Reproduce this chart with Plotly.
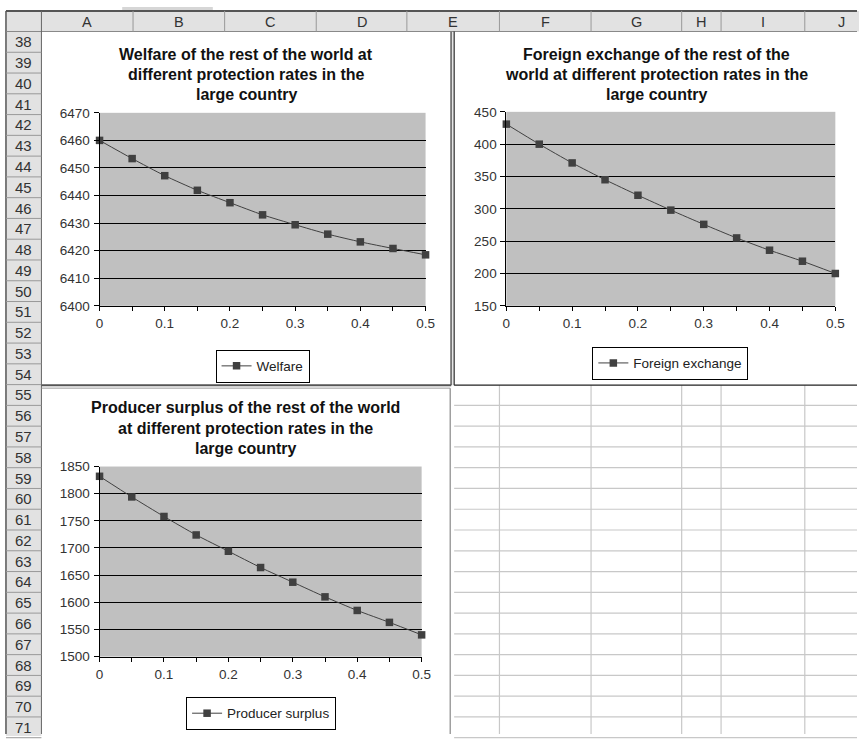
import plotly.graph_objects as go

# ---------------------------------------------------------------------------
# Data
# ---------------------------------------------------------------------------
RATES = [0, 0.05, 0.1, 0.15, 0.2, 0.25, 0.3, 0.35, 0.4, 0.45, 0.5]
WELFARE = [6460.0, 6453.4, 6447.2, 6441.9, 6437.4, 6433.0, 6429.4, 6426.0, 6423.2, 6420.8, 6418.5]
FOREIGN_EXCHANGE = [431, 400, 371, 345, 321, 298, 276, 255, 236, 219, 200]
PRODUCER_SURPLUS = [1832, 1794, 1758, 1724, 1694, 1664, 1637, 1610, 1585, 1563, 1540]

SERIES_NAMES = ["Welfare", "Foreign exchange", "Producer surplus"]
TITLES = [
    ["Welfare of the rest of the world at", "different protection rates in the", "large country"],
    ["Foreign exchange of the rest of the", "world at different protection rates in the", "large country"],
    ["Producer surplus of the rest of the world", "at different protection rates in the", "large country"],
]
Y_RANGES = [(6400, 6470), (150, 450), (1500, 1850)]
Y_STEPS = [10, 50, 50]

COLUMN_LABELS = ["A", "B", "C", "D", "E", "F", "G", "H", "I", "J"]
ROW_LABELS = [str(r) for r in range(38, 72)]

# ---------------------------------------------------------------------------
# Page geometry (pixels) and styles
# ---------------------------------------------------------------------------
W, H = 866, 742
FONT = "Liberation Sans, Arial, sans-serif"
LINE_COL = "#404040"
PLOT_BG = "#c0c0c0"
HEAD_BG = "#e2e2e2"
CELL_LINE = "#c8c8c8"

COL_EDGES = [38, 131, 224, 317, 409, 503, 596, 688, 728, 813, 887]
HEAD_TOP, HEAD_BOT = 4, 25
ROW_H = 21.2
ROW_HEAD_L, ROW_HEAD_R = 2, 38

# plot areas: (left, right, top, bottom)
PLOT_BOXES = [(97, 428, 108, 305), (510, 844, 107, 305), (97, 424, 469, 663)]
TITLE_POS = [(246, [48, 68.5, 89]), (662, [48, 68.5, 89]), (245, [409, 430, 451])]
LEGEND_POS = [(262.5, 366.5), (676.5, 363.5), (261, 721)]


def px(x):
    return x / W


def py(y):
    return 1 - y / H


def line(x0, y0, x1, y1, color, width=1):
    return dict(type="line", xref="paper", yref="paper",
                x0=px(x0), y0=py(y0), x1=px(x1), y1=py(y1),
                line=dict(color=color, width=width))


def rect(x0, y0, x1, y1, fill, color=None, width=0):
    d = dict(type="rect", xref="paper", yref="paper", layer="below",
             x0=px(x0), y0=py(y0), x1=px(x1), y1=py(y1),
             fillcolor=fill, line=dict(width=width))
    if color:
        d["line"]["color"] = color
    return d


fig = go.Figure()

series = [WELFARE, FOREIGN_EXCHANGE, PRODUCER_SURPLUS]
for i, (name, values) in enumerate(zip(SERIES_NAMES, series)):
    suffix = "" if i == 0 else str(i + 1)
    fig.add_trace(go.Scatter(
        x=RATES, y=values, name=name, mode="lines+markers",
        line=dict(color=LINE_COL, width=1, shape="spline", smoothing=0.6),
        marker=dict(symbol="square", size=7.5, color=LINE_COL),
        xaxis="x" + suffix, yaxis="y" + suffix,
        legend="legend" + suffix, cliponaxis=False, showlegend=True,
    ))

layout = dict(
    width=W, height=H, margin=dict(l=0, r=0, t=0, b=0),
    paper_bgcolor="white", plot_bgcolor=PLOT_BG,
    font=dict(family=FONT, color="#222"),
)

for i, ((l, r, t, b), (lo, hi), step) in enumerate(zip(PLOT_BOXES, Y_RANGES, Y_STEPS)):
    suffix = "" if i == 0 else str(i + 1)
    layout["xaxis" + suffix] = dict(
        domain=[px(l), px(r)], anchor="y" + suffix, range=[0, 0.5],
        tick0=0, dtick=0.1, ticks="outside", ticklen=4, tickcolor="black",
        showline=True, linecolor="black", linewidth=1,
        showgrid=False, zeroline=False,
        minor=dict(dtick=0.05, tick0=0, ticks="outside", ticklen=4,
                   tickcolor="black", showgrid=False),
        tickfont=dict(size=13.5, color="#333"), ticklabelstandoff=1,
        fixedrange=True,
    )
    layout["yaxis" + suffix] = dict(
        domain=[py(b), py(t)], anchor="x" + suffix, range=[lo, hi],
        tick0=lo, dtick=step, ticks="outside", ticklen=5, tickcolor="black",
        showline=True, linecolor="black", linewidth=1,
        showgrid=True, gridcolor="black", gridwidth=1, zeroline=False,
        tickfont=dict(size=13.5, color="#333"), ticklabelstandoff=1,
        fixedrange=True,
    )
    lx, ly = LEGEND_POS[i]
    layout["legend" + suffix] = dict(
        x=px(lx), y=py(ly), xanchor="center", yanchor="middle",
        bgcolor="white", bordercolor="black", borderwidth=1,
        font=dict(size=13.5, color="#222"), itemwidth=30,
    )

# ---------------------------------------------------------------------------
# Worksheet frame: headers, cell grid and chart borders
# ---------------------------------------------------------------------------
shapes = []
# small tab above the header row
shapes.append(rect(120, 0, 212, 3, "#d6d6d6"))
# column header band
shapes.append(rect(ROW_HEAD_L, HEAD_TOP, W + 2, HEAD_BOT, HEAD_BG))
# row header band
shapes.append(rect(ROW_HEAD_L, HEAD_BOT, ROW_HEAD_R, H + 2, HEAD_BG))

# empty cells below the second chart
n_rows = len(ROW_LABELS)
for k in range(18, n_rows + 1):
    y = HEAD_BOT + k * ROW_H
    shapes.append(line(457, y, W, y, CELL_LINE, 1.2))
for x in COL_EDGES[5:10]:
    shapes.append(line(x, 386, x, H, CELL_LINE, 1.2))

# header separators
shapes.append(line(ROW_HEAD_L, HEAD_TOP, W, HEAD_TOP, "#555", 2))
shapes.append(line(ROW_HEAD_L, HEAD_TOP, ROW_HEAD_L, H, "#555", 1.5))
shapes.append(line(ROW_HEAD_L, HEAD_BOT, W, HEAD_BOT, "#888", 1))
shapes.append(line(ROW_HEAD_R, HEAD_TOP, ROW_HEAD_R, H, "#666", 1))
for x in COL_EDGES[1:10]:
    shapes.append(line(x, HEAD_TOP, x, HEAD_BOT, "#999", 1))
for k in range(1, n_rows + 1):
    y = HEAD_BOT + k * ROW_H
    shapes.append(line(ROW_HEAD_L, y, ROW_HEAD_R, y, "#999", 1))

# chart borders
shapes.append(line(454, HEAD_BOT, 454, 386, "#777", 2))
shapes.append(line(ROW_HEAD_R, 386, 454, 386, "#555", 2))
shapes.append(line(457, HEAD_BOT, 457, 386, "#222", 1.2))
shapes.append(line(457, 386, W, 386, "#222", 1.2))
shapes.append(line(ROW_HEAD_R, 389, 453, 389, "#999", 1))
shapes.append(line(453, 389, 453, H, "#888", 1.2))

annotations = []
for j, lab in enumerate(COLUMN_LABELS):
    cx = (COL_EDGES[j] + COL_EDGES[j + 1]) / 2
    annotations.append(dict(text=lab, xref="paper", yref="paper",
                            x=px(cx), y=py((HEAD_TOP + HEAD_BOT) / 2 + 0.5),
                            xanchor="center", yanchor="middle", showarrow=False,
                            font=dict(size=14.5, color="#333", family=FONT)))
for k, lab in enumerate(ROW_LABELS):
    cy = HEAD_BOT + (k + 0.5) * ROW_H
    annotations.append(dict(text=lab, xref="paper", yref="paper",
                            x=px((ROW_HEAD_L + ROW_HEAD_R) / 2), y=py(cy),
                            xanchor="center", yanchor="middle", showarrow=False,
                            font=dict(size=15, color="#333", family=FONT)))

# chart titles
for (cx, ys), lines in zip(TITLE_POS, TITLES):
    for yy, txt in zip(ys, lines):
        annotations.append(dict(text="<b>" + txt + "</b>", xref="paper", yref="paper",
                                x=px(cx), y=py(yy), xanchor="center", yanchor="middle",
                                showarrow=False,
                                font=dict(size=16, color="#111", family=FONT)))

layout["shapes"] = shapes
layout["annotations"] = annotations
fig.update_layout(**layout)

fig.write_html("out.html")
